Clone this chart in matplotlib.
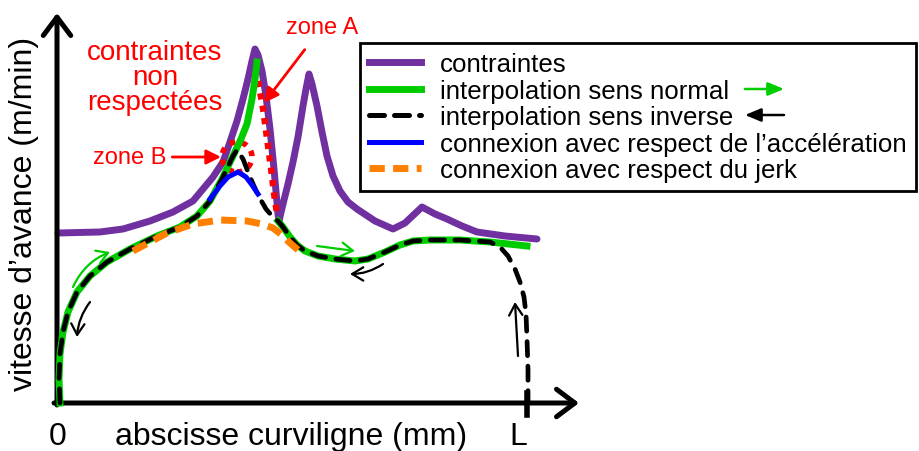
import matplotlib.pyplot as plt
from matplotlib.lines import Line2D
from matplotlib.patches import Circle

plt.rcParams['font.family'] = ['Liberation Sans', 'DejaVu Sans']

VIOLET = '#7030a0'
VERT = '#00cc00'
ORANGE = '#ff8000'
ROUGE = '#ff0000'

L_POS = 471

contraintes_x = [1, 43, 66, 93, 116, 136, 156, 166, 173, 180, 186, 191, 195, 198, 201, 205, 209, 213, 217, 221,
                 222, 226, 231, 236, 241, 246, 249, 252, 255, 260, 265, 270, 276, 283, 291, 300, 318, 336, 348, 365,
                 378, 390, 405, 420, 448, 480]
contraintes_y = [170, 171, 174, 182, 191, 202, 226, 241, 261, 282, 304, 324, 342, 354, 348, 332, 307, 274, 234, 189,
                 182, 199, 219, 241, 266, 297, 314, 329, 319, 297, 271, 247, 227, 212, 201, 194, 182, 174, 180, 196,
                 189, 184, 177, 171, 167, 164]

# interpolation sens normal : avant et apres la zone A
normal_1_x = [3, 2, 3, 6, 11, 20, 33, 50, 73, 100, 123, 140, 153, 165, 176, 184, 190, 195, 198, 200]
normal_1_y = [0, 24, 49, 71, 91, 111, 127, 141, 154, 167, 176, 187, 202, 224, 247, 264, 279, 304, 324, 341]
normal_2_x = [221, 226, 233, 240, 248, 261, 278, 298, 311, 328, 343, 356, 373, 403, 433, 470]
normal_2_y = [182, 176, 166, 158, 152, 147, 144, 142, 144, 151, 158, 162, 163, 163, 161, 157]

# interpolation sens inverse
inverse_x = [3, 2, 3, 6, 11, 20, 33, 50, 73, 100, 123, 140, 153, 165, 176, 180, 186, 193, 201, 209, 216, 221,
             226, 233, 240, 248, 261, 278, 298, 311, 328, 343, 356, 373, 403, 433,
             443, 451, 458, 463, 467, 469, 470, 471, 471]
inverse_y = [0, 24, 49, 71, 91, 111, 127, 141, 154, 167, 176, 187, 202, 224, 247, 253, 244, 226, 208, 194, 186, 182,
             176, 166, 158, 152, 147, 144, 142, 144, 151, 158, 162, 163, 163, 161,
             156, 147, 134, 121, 106, 89, 64, 34, 0]

accel_x = [153, 163, 171, 181, 189, 195, 201]
accel_y = [204, 217, 226, 231, 226, 218, 209]

jerk_x = [76, 93, 110, 136, 163, 190, 205, 216, 225, 233, 240, 246]
jerk_y = [152, 161, 170, 179, 183, 182, 179, 175, 168, 160, 154, 149]

zone_a_x = [201, 206, 210, 214, 217, 220]
zone_a_y = [322, 294, 264, 234, 209, 189]
zone_b_centre = (180, 246)

legend_labels = ['contraintes', 'interpolation sens normal', 'interpolation sens inverse',
                 "connexion avec respect de l\u2019acc\u00e9l\u00e9ration", 'connexion avec respect du jerk']

fig = plt.figure(figsize=(9.19, 4.52), dpi=100)
ax = fig.add_axes([0, 0, 1, 1])
ax.set_xlim(-57, 862)
ax.set_ylim(-48, 404)
ax.axis('off')

ax.plot(contraintes_x, contraintes_y, color=VIOLET, lw=5, solid_joinstyle='round', solid_capstyle='round', zorder=2)
ax.plot(zone_a_x, zone_a_y, color=ROUGE, lw=4.5, dashes=(1, 1), zorder=3)
ax.add_patch(Circle(zone_b_centre, 15, fill=False, edgecolor=ROUGE, lw=4, linestyle=(0, (1, 1.2)), zorder=3))
ax.plot(normal_1_x, normal_1_y, color=VERT, lw=5, zorder=4)
ax.plot(normal_2_x, normal_2_y, color=VERT, lw=5, zorder=4)
ax.plot(inverse_x, inverse_y, color='black', lw=3.4, dashes=(3, 2.2), dash_capstyle='round', zorder=5)
ax.plot(accel_x, accel_y, color='blue', lw=3.6, zorder=6)
ax.plot(jerk_x, jerk_y, color=ORANGE, lw=5, dashes=(2.2, 1.2), zorder=6)

# axes
axe = dict(arrowstyle='->,head_length=0.6,head_width=0.45', lw=3.6, color='black',
           mutation_scale=22, shrinkA=0, shrinkB=0)
ax.annotate('', xy=(0, 390), xytext=(0, -2), arrowprops=axe)
ax.annotate('', xy=(522, 0), xytext=(-3, 0), arrowprops=axe)
ax.plot([L_POS - 1, L_POS - 1], [-12, 10], color='black', lw=4)

ax.text(1, -33, '0', fontsize=23, ha='center', va='center')
ax.text(L_POS - 10, -33, 'L', fontsize=23, ha='center', va='center')
ax.text(234, -33, 'abscisse curviligne (mm)', fontsize=23, ha='center', va='center')
ax.text(-33, 190, 'vitesse d\u2019avance (m/min)', fontsize=23, ha='center', va='center', rotation=90)

# annotations en rouge
ax.text(98, 326, 'contraintes\nnon\nrespect\u00e9es', fontsize=20, color=ROUGE, ha='center', va='center',
        linespacing=0.95)
ax.annotate('zone A', xy=(207, 300), xytext=(265, 376), fontsize=17, color=ROUGE, ha='center', va='center',
            arrowprops=dict(arrowstyle='-|>', color=ROUGE, lw=2, mutation_scale=22, shrinkA=8, shrinkB=0))
ax.annotate('zone B', xy=(164, 246), xytext=(73, 246), fontsize=17, color=ROUGE, ha='center', va='center',
            arrowprops=dict(arrowstyle='-|>', color=ROUGE, lw=2, mutation_scale=22, shrinkA=2, shrinkB=0))

# sens de parcours
fleche = dict(arrowstyle='->,head_length=0.5,head_width=0.3', lw=1.6, mutation_scale=16, shrinkA=0, shrinkB=0)
ax.annotate('', xy=(53, 151), xytext=(16, 116), arrowprops=dict(fleche, color=VERT, connectionstyle='arc3,rad=-0.2'))
ax.annotate('', xy=(20, 66), xytext=(33, 101), arrowprops=dict(fleche, color='black', connectionstyle='arc3,rad=0.15'))
ax.annotate('', xy=(298, 152), xytext=(260, 157), arrowprops=dict(fleche, color=VERT))
ax.annotate('', xy=(293, 129), xytext=(326, 139), arrowprops=dict(fleche, color='black', connectionstyle='arc3,rad=-0.15'))
ax.annotate('', xy=(458, 101), xytext=(461, 47), arrowprops=dict(fleche, color='black'))

handles = [Line2D([], [], color=VIOLET, lw=5),
           Line2D([], [], color=VERT, lw=5),
           Line2D([], [], color='black', lw=3.6, dashes=(3, 2), dash_capstyle='round'),
           Line2D([], [], color='blue', lw=3.6),
           Line2D([], [], color=ORANGE, lw=5, dashes=(2.2, 1.2))]
leg = ax.legend(handles, legend_labels, loc='upper left', bbox_to_anchor=(360 / 919, 1 - 44 / 452),
                borderaxespad=0, fontsize=18.6, handlelength=2.0, handletextpad=0.75, borderpad=0.35,
                labelspacing=0.1, fancybox=False, framealpha=1, edgecolor='black')
leg.get_frame().set_linewidth(2)
leg.set_zorder(10)

fleche_leg = dict(arrowstyle='-|>,head_length=0.6,head_width=0.25', lw=1.8, mutation_scale=16, shrinkA=0, shrinkB=0)
ax.annotate('', xy=(727, 314), xytext=(688, 314), arrowprops=dict(fleche_leg, color=VERT), zorder=11)
ax.annotate('', xy=(688, 288), xytext=(727, 288), arrowprops=dict(fleche_leg, color='black'), zorder=11)

fig.savefig('out.png', dpi=100)
